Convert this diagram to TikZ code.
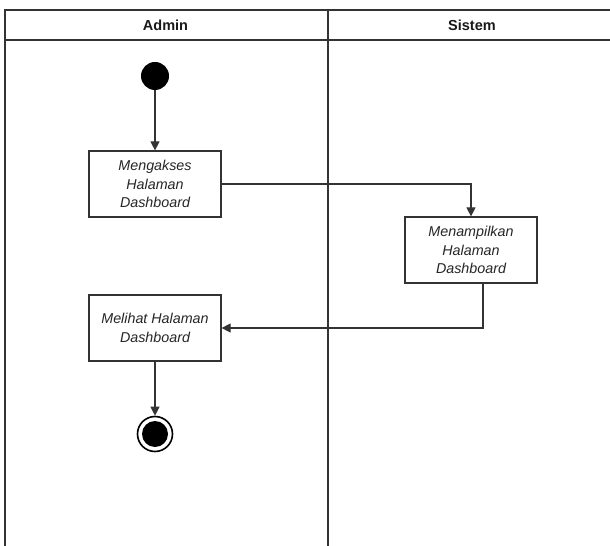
\documentclass[tikz,border=0pt]{standalone}
\usepackage{fontspec}
\setmainfont{Liberation Sans}
\usetikzlibrary{arrows.meta,positioning}
\tikzset{
  lane/.style={draw=black!80, line width=1.4bp},
  actbox/.style={draw=black!80, line width=1.2bp, fill=white, minimum width=132bp, minimum height=66bp, inner sep=0pt,
    align=center, text=black!85, font=\fontsize{14.3bp}{18.5bp}\selectfont\itshape},
  head/.style={text=black!90, font=\fontsize{14.5bp}{17bp}\selectfont\bfseries, inner sep=0pt},
  flow/.style={draw=black!80, line width=1.1bp, -{Triangle[length=9bp,width=9bp]}},
}
\begin{document}
\begin{tikzpicture}[x=1bp,y=-1bp]
\useasboundingbox (0,0) rectangle (610,546);
% swimlane frame
\coordinate (tl) at (5,10);
\coordinate (tr) at (612,10);
\coordinate (hl) at (5,40);
\coordinate (hr) at (612,40);
\coordinate (bl) at (5,548);
\coordinate (mt) at (328,10);
\coordinate (mb) at (328,548);
\draw[lane] (bl) -- (tl) -- (tr);
\draw[lane] (hl) -- (hr);
\draw[lane] (mt) -- (mb);
\node[head] (admin) at (165.5,25) {Admin};
\node[head] (sistem) at (472,25) {Sistem};
% nodes
\node[circle, fill=black, minimum size=28bp, inner sep=0pt] (start) at (155,76) {};
\node[actbox] (b1) at (155,184) {Mengakses\\Halaman\\Dashboard};
\node[actbox] (b2) at (471,250) {Menampilkan\\Halaman\\Dashboard};
\node[actbox] (b3) at (155,328) {Melihat Halaman\\Dashboard};
\node[circle, draw=black, line width=1.6bp, minimum size=35bp, inner sep=0pt] (end) at (155,434) {};
\node[circle, fill=black, minimum size=26bp, inner sep=0pt] (endin) at (end.center) {};
% connectors
\draw[flow] (start) -- (b1);
\draw[flow] (b1.east) -| (b2.north);
\draw[flow] ([xshift=12bp]b2.south) |- (b3.east);
\draw[flow] (b3.south) -- (end.north);
\end{tikzpicture}
\end{document}
